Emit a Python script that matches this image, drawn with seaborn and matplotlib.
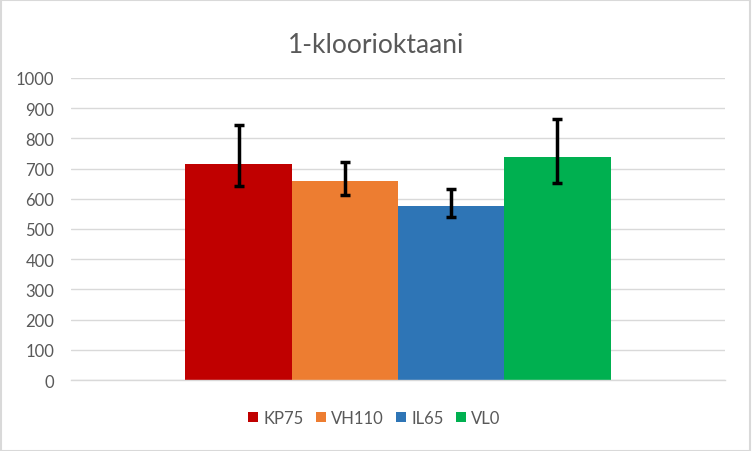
import numpy as np
import pandas as pd
import matplotlib
matplotlib.use("Agg")
import matplotlib.pyplot as plt
import seaborn as sns
from matplotlib.patches import Rectangle

# data
series = ["KP75", "VH110", "IL65", "VL0"]
values = [716, 658, 575, 737]
err_low = [641, 613, 541, 652]     # lower end of each error bar
err_high = [844, 723, 634, 865]    # upper end of each error bar
colors = ["#C00000", "#ED7D31", "#2E75B6", "#00B050"]
yticks = list(range(0, 1001, 100))
title = "1-kloorioktaani"

sns.set_theme(style="white")
plt.rcParams["font.family"] = ["Lato", "DejaVu Sans"]

df = pd.DataFrame({"group": [""] * len(series), "series": series, "value": values})

fig = plt.figure(figsize=(7.52, 4.52), dpi=100)
ax = fig.add_axes([71 / 752, 1 - 381 / 452, 654 / 752, 302 / 452])

sns.barplot(data=df, x="group", y="value", hue="series", hue_order=series,
            palette=colors, width=0.65, gap=0, errorbar=None, saturation=1,
            linewidth=0, ax=ax, legend=True)

# asymmetric error bars at the bar centres
bars = ax.patches[:len(series)]
centres = [b.get_x() + b.get_width() / 2 for b in bars]
yerr = np.array([[v - lo for v, lo in zip(values, err_low)],
                 [hi - v for v, hi in zip(values, err_high)]])
ax.errorbar(centres, values, yerr=yerr, fmt="none", ecolor="black",
            elinewidth=2.5, capsize=3.4, capthick=2.5, zorder=5)

ax.set_ylim(0, 1000)
ax.set_xlim(-0.5, 0.5)
ax.set_yticks(yticks)
ax.set_yticklabels([str(t) for t in yticks], fontsize=12, color="#595959")
ax.set_xticks([])
ax.set_xlabel("")
ax.set_ylabel("")
ax.tick_params(axis="y", length=0, pad=12)
ax.yaxis.grid(True, color="#D9D9D9", linewidth=1)
ax.set_axisbelow(True)
for side in ["left", "right", "top"]:
    ax.spines[side].set_visible(False)
ax.spines["bottom"].set_color("#D9D9D9")
ax.spines["bottom"].set_linewidth(1)

fig.text(0.5, 1 - 53 / 452, title, ha="center", va="baseline",
         fontsize=19, color="#595959")

handles, labels = ax.get_legend_handles_labels()
ax.legend(handles, labels, loc="center", bbox_to_anchor=(0.498, 1 - 419 / 452),
          bbox_transform=fig.transFigure, ncol=4, frameon=False,
          handlelength=0.6, handleheight=0.6, handletextpad=0.3,
          columnspacing=0.75, fontsize=12, labelcolor="#595959")

# outer chart border
fig.patches.append(Rectangle((0.001, 0.001), 0.997, 0.997, transform=fig.transFigure,
                             fill=False, edgecolor="#D9D9D9", linewidth=1.5))

fig.savefig("out.png", dpi=100)
plt.close()
